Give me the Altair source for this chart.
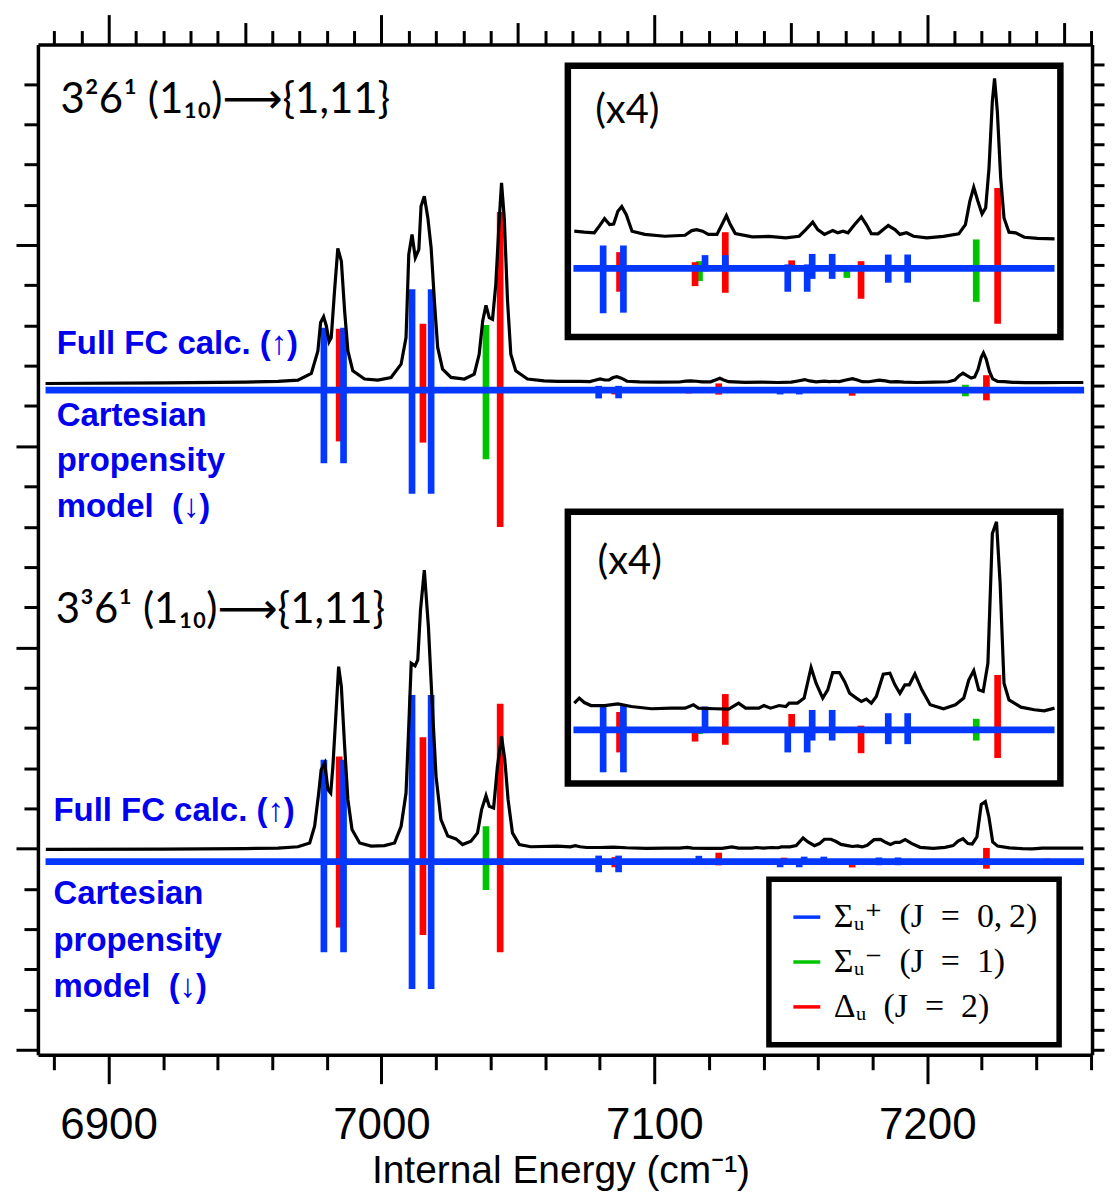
import altair as alt
import pandas as pd

# ---------------- categories / legend ----------------
SYM_CODES = ["S+", "S-", "D"]
SYM_NAMES = ["Σᵤ⁺\u2002(J\u2002=\u20020,\u20092)", "Σᵤ⁻\u2002(J\u2002=\u20021)", "Δᵤ\u2002(J\u2002=\u20022)"]
SYM_COLORS = ["#0538ff", "#00c400", "#ff0000"]
DRAW_RANK = {"S-": 0, "D": 1, "S+": 2}

# ---------------- strong transitions (main panels only), cm-1 ----------------
STRONG_E = [6978.9, 6984.5, 6986.1, 7011.2, 7015.2, 7018.2, 7038.3, 7043.5]
STRONG_SYM = ["S+", "D", "S+", "S+", "D", "S+", "S-", "D"]
STRONG_FC_UPPER = [3.10, 3.05, 3.10, 5.01, 3.30, 5.01, 3.24, 8.85]
STRONG_CART_UPPER = [3.64, 2.55, 3.64, 5.15, 2.61, 5.15, 3.44, 6.81]
STRONG_FC_LOWER = [5.07, 5.23, 5.07, 8.29, 6.18, 8.29, 1.76, 7.85]
STRONG_CART_LOWER = [4.51, 3.27, 4.51, 6.33, 3.65, 6.33, 1.41, 4.51]

# ---------------- weak transitions (values on the magnified inset scale) ----------------
WEAK_E = [7079.6, 7085.5, 7086.9, 7112.7, 7114.3, 7116.3, 7123.6, 7123.6, 7146.1, 7147.5,
          7153.1, 7154.9, 7162.1, 7167.4, 7172.5, 7182.3, 7189.3, 7214.0, 7221.7, 7243.9]
WEAK_SYM = ["S+", "D", "S+", "D", "S-", "S+", "D", "S+", "S+", "D",
            "S+", "S+", "S+", "S-", "D", "S+", "S+", "S-", "D", "D"]
WEAK_FC_UPPER = [1.14, 0.81, 1.14, 0.31, 0.36, 0.66, 1.80, 0.66, 0.20, 0.40,
                 0.20, 0.72, 0.72, 0.00, 0.36, 0.69, 0.69, 1.44, 4.00, 0.00]
WEAK_CART_UPPER = [2.23, 1.16, 2.20, 0.88, 0.63, 0.15, 1.21, 0.15, 1.16, 0.13,
                   1.16, 0.52, 0.52, 0.47, 1.51, 0.71, 0.71, 1.66, 2.75, 0.00]
WEAK_FC_LOWER = [1.20, 0.89, 1.20, 0.05, 0.05, 1.16, 1.78, 0.05, 0.05, 0.79,
                 0.05, 0.99, 0.99, 0.00, 0.21, 0.83, 0.83, 0.55, 2.73, 0.60]
WEAK_CART_LOWER = [2.11, 1.12, 2.11, 0.58, 0.21, 0.16, 0.74, 0.05, 1.12, 0.05,
                   1.12, 0.53, 0.53, 0.00, 1.16, 0.71, 0.71, 0.53, 1.40, 0.00]

# ---------------- spectra: strong region (main scale) ----------------
UPPER_E = [6876.9, 6920.0, 6950.0, 6962.1, 6969.4, 6974.3, 6976.7, 6977.7, 6978.8, 6979.8,
           6980.8, 6981.6, 6982.8, 6984.0, 6985.3, 6986.5, 6987.7, 6989.5, 6993.8, 6998.7,
           7003.5, 7007.2, 7009.0, 7010.0, 7011.2, 7012.4, 7013.7, 7014.5, 7015.7, 7017.0,
           7018.2, 7019.4, 7020.6, 7022.4, 7025.5, 7030.4, 7034.0, 7035.8, 7037.1, 7038.3,
           7039.5, 7040.7, 7041.9, 7043.2, 7044.0, 7045.0, 7046.2, 7047.4, 7049.2, 7053.5,
           7059.6, 7064.5]
UPPER_I = [-0.05, -0.02, 0.02, 0.05, 0.12, 0.45, 1.57, 2.98, 3.27, 2.81,
           2.03, 2.23, 4.55, 6.66, 6.03, 3.55, 1.57, 0.58, 0.17, 0.12,
           0.25, 0.91, 2.23, 6.36, 7.36, 6.20, 6.61, 8.76, 9.26, 8.18,
           6.69, 4.05, 1.74, 0.66, 0.25, 0.17, 0.41, 1.40, 3.06, 3.83,
           3.22, 3.14, 4.88, 8.18, 9.92, 8.18, 4.05, 1.40, 0.58, 0.17,
           0.08, 0.05]
LOWER_E = [6877.0, 6920.0, 6950.0, 6962.1, 6969.4, 6973.7, 6975.5, 6977.0, 6977.9, 6979.2,
           6980.4, 6981.4, 6982.2, 6983.4, 6984.3, 6985.3, 6986.5, 6987.7, 6989.2, 6992.0,
           6996.2, 7001.1, 7004.8, 7007.2, 7009.0, 7010.0, 7010.9, 7012.3, 7013.3, 7014.3,
           7015.7, 7017.2, 7018.4, 7020.0, 7021.8, 7024.3, 7027.3, 7029.7, 7032.8, 7035.2,
           7036.7, 7038.3, 7039.5, 7041.1, 7042.5, 7044.0, 7045.2, 7046.4, 7048.0, 7050.5,
           7054.7, 7064.5]
LOWER_I = [-0.06, -0.05, -0.02, 0.00, 0.07, 0.26, 1.09, 2.74, 3.90, 4.23,
           2.91, 2.74, 4.07, 6.88, 9.02, 8.03, 5.06, 2.41, 0.93, 0.26,
           0.10, 0.13, 0.26, 1.09, 2.74, 6.05, 9.19, 9.06, 9.36, 11.83,
           13.82, 11.01, 7.70, 3.57, 1.42, 0.60, 0.46, 0.18, 0.35, 0.76,
           1.92, 2.61, 2.08, 2.00, 4.07, 5.55, 4.40, 2.41, 0.76, 0.18,
           0.07, 0.10]
TAIL_E = [7250.0, 7257.2]
TAIL_I = [0.0, 0.0]

# ---------------- spectra: weak region (magnified inset scale) ----------------
INSET1_E = [7069.2, 7072.8, 7076.4, 7078.2, 7080.1, 7081.9, 7083.4, 7084.9, 7086.3, 7087.9,
            7090.0, 7094.6, 7101.8, 7109.1, 7111.5, 7113.3, 7115.4, 7117.5, 7120.6, 7122.4,
            7124.0, 7125.4, 7127.2, 7133.3, 7139.3, 7145.4, 7150.2, 7152.6, 7155.1, 7156.9,
            7159.3, 7162.3, 7164.1, 7166.0, 7167.8, 7170.2, 7172.6, 7174.4, 7176.2, 7178.6,
            7182.3, 7184.7, 7186.5, 7188.9, 7191.4, 7196.2, 7202.2, 7207.7, 7210.1, 7211.7,
            7213.1, 7214.6, 7216.1, 7217.4, 7218.6, 7219.8, 7220.6, 7221.6, 7222.8, 7224.0,
            7225.8, 7228.2, 7231.3, 7236.1, 7242.2]
INSET1_I = [0.33, 0.28, 0.25, 0.58, 0.96, 0.66, 0.69, 1.32, 1.55, 1.16,
            0.33, 0.17, 0.08, 0.13, 0.36, 0.41, 0.33, 0.17, 0.17, 0.66,
            1.11, 0.66, 0.21, 0.05, 0.07, 0.00, 0.08, 0.41, 0.78, 0.41,
            0.17, 0.36, 0.25, 0.33, 0.25, 0.66, 1.04, 0.66, 0.21, 0.20,
            0.61, 0.41, 0.17, 0.25, 0.08, 0.00, 0.07, 0.20, 0.66, 1.82,
            2.51, 1.82, 1.19, 1.49, 3.47, 6.78, 7.93, 6.28, 2.98, 0.99,
            0.28, 0.25, 0.03, -0.03, -0.05]
INSET2_E = [7069.2, 7071.0, 7072.8, 7075.2, 7080.1, 7084.9, 7089.7, 7097.0, 7104.2, 7109.1,
            7112.1, 7113.9, 7120.0, 7124.8, 7128.4, 7130.9, 7135.7, 7137.5, 7139.9, 7143.0,
            7145.4, 7146.6, 7149.6, 7152.0, 7154.5, 7156.3, 7158.7, 7160.5, 7162.3, 7164.7,
            7166.6, 7168.4, 7170.8, 7172.6, 7174.4, 7176.2, 7178.0, 7180.5, 7182.9, 7184.7,
            7186.5, 7188.3, 7189.9, 7191.9, 7194.4, 7197.4, 7202.2, 7206.5, 7209.5, 7211.3,
            7213.1, 7214.9, 7216.5, 7218.2, 7219.8, 7221.3, 7222.6, 7224.0, 7225.8, 7230.1,
            7234.9, 7238.5, 7242.2]
INSET2_I = [0.25, 0.50, 0.28, 0.13, 0.13, 0.21, 0.08, -0.03, 0.00, 0.00,
            0.17, 0.00, -0.03, -0.05, 0.25, 0.00, 0.00, 0.13, 0.00, 0.13,
            0.08, 0.25, 0.25, 0.50, 2.02, 1.24, 0.50, 0.91, 1.77, 1.77,
            1.32, 0.74, 0.50, 0.33, 0.45, 0.25, 0.58, 1.69, 1.74, 1.16,
            0.74, 1.16, 1.16, 1.70, 0.91, 0.17, -0.03, 0.17, 0.50, 1.40,
            1.87, 0.91, 0.83, 2.23, 8.68, 9.26, 6.20, 1.24, 0.41, 0.05,
            -0.08, -0.13, 0.00]

# ---------------- text ----------------
PANEL_LABELS = ["3²6¹ (1₁₀)⟶{1,11}", "3³6¹ (1₁₀)⟶{1,11}"]
INSET_LABEL = "(x4)"
BLUE_LINES = ["Full FC calc. (↑)", "Cartesian", "propensity", "model\u00a0\u00a0(↓)"]
X_TITLE = "Internal Energy (cm⁻¹)"
XTICKS = list(range(6880, 7261, 10))
YTICKS = list(range(-5, 45))

# ---------------- layout (plot units) ----------------
X_DOMAIN = [6874.1, 7260.4]
Y_DOMAIN = [-5.25, 44.97]
BASELINE_X = (6876.9, 7257.5)
FRAME_X = (7068.3, 7248.8)
INSET_SPAN_E = (7068.9, 7242.2)
INSET_X_REF, INSET_X_ANCHOR, INSET_X_GAIN = 7079.6, 7081.24, 1.0173
PANELS = {
    "upper": dict(curve=28.17, stick=27.79, icurve=35.36, istick=33.84, gain=5.4,
                  frame_y=(30.43, 43.92), label=(6882.4, 41.59), x4=(7078.3, 41.06),
                  blue_x=6881.0, blue_y=[29.61, 26.02, 23.79, 21.48]),
    "lower": dict(curve=5.02, stick=4.35, icurve=11.98, istick=10.90, gain=4.0,
                  frame_y=(8.24, 21.74), label=(6880.6, 16.19), x4=(7079.2, 18.64),
                  blue_x=6879.8, blue_y=[6.36, 2.23, -0.08, -2.39]),
}


def e_disp(e):
    return INSET_X_ANCHOR + INSET_X_GAIN * (e - INSET_X_REF)


sym_name = dict(zip(SYM_CODES, SYM_NAMES))
panel_data = {
    "upper": (STRONG_FC_UPPER, STRONG_CART_UPPER, WEAK_FC_UPPER, WEAK_CART_UPPER,
              UPPER_E, UPPER_I, INSET1_E, INSET1_I),
    "lower": (STRONG_FC_LOWER, STRONG_CART_LOWER, WEAK_FC_LOWER, WEAK_CART_LOWER,
              LOWER_E, LOWER_I, INSET2_E, INSET2_I),
}

stick_rows, curve_rows, base_rows, frame_rows = [], [], [], []
label_rows, x4_rows, blue_rows = [], [], []
for pname, p in PANELS.items():
    sfc, scart, wfc, wcart, ce, ci, ie, ii = panel_data[pname]
    for e, s, u, d in zip(STRONG_E, STRONG_SYM, sfc, scart):
        stick_rows.append(dict(x=e, y=p["stick"] + u, y2=p["stick"] - d,
                               sym=sym_name[s], rank=DRAW_RANK[s]))
    for e, s, u, d in zip(WEAK_E, WEAK_SYM, wfc, wcart):
        if u == 0 and d == 0:
            continue
        stick_rows.append(dict(x=e, y=p["stick"] + u / p["gain"], y2=p["stick"] - d / p["gain"],
                               sym=sym_name[s], rank=DRAW_RANK[s]))
        if e <= INSET_SPAN_E[1]:
            stick_rows.append(dict(x=e_disp(e), y=p["istick"] + u, y2=p["istick"] - d,
                                   sym=sym_name[s], rank=DRAW_RANK[s]))
    cid = pname + "_main"
    for e, i in zip(ce, ci):
        curve_rows.append(dict(c=cid, x=e, y=p["curve"] + i))
    for e, i in zip(ie, ii):
        curve_rows.append(dict(c=cid, x=e, y=p["curve"] + i / p["gain"]))
    for e, i in zip(TAIL_E, TAIL_I):
        curve_rows.append(dict(c=cid, x=e, y=p["curve"] + i))
    for e, i in zip(ie, ii):
        curve_rows.append(dict(c=pname + "_inset", x=e_disp(e), y=p["icurve"] + i))
    base_rows.append(dict(x=BASELINE_X[0], x2=BASELINE_X[1], y=p["stick"]))
    base_rows.append(dict(x=e_disp(INSET_SPAN_E[0]), x2=e_disp(INSET_SPAN_E[1]), y=p["istick"]))
    frame_rows.append(dict(x=FRAME_X[0], x2=FRAME_X[1], y=p["frame_y"][0], y2=p["frame_y"][1]))
    label_rows.append(dict(x=p["label"][0], y=p["label"][1],
                           text=PANEL_LABELS[0 if pname == "upper" else 1]))
    x4_rows.append(dict(x=p["x4"][0], y=p["x4"][1], text=INSET_LABEL))
    for t, yy in zip(BLUE_LINES, p["blue_y"]):
        blue_rows.append(dict(x=p["blue_x"], y=yy, text=t))

sticks_df = pd.DataFrame(stick_rows).sort_values("rank", kind="stable").reset_index(drop=True)
curves_df = pd.DataFrame(curve_rows)
base_df = pd.DataFrame(base_rows)
frame_df = pd.DataFrame(frame_rows)
label_df = pd.DataFrame(label_rows)
x4_df = pd.DataFrame(x4_rows)
blue_df = pd.DataFrame(blue_rows)

XS = alt.Scale(domain=X_DOMAIN, nice=False, zero=False)
YS = alt.Scale(domain=Y_DOMAIN, nice=False, zero=False)

common_axis = dict(grid=False, domainColor="black", domainWidth=3.5,
                   tickColor="black", tickWidth=3)


def tick_expr(major_step, mid_step, major, mid, minor):
    v = "abs(round(datum.value))"
    return alt.ExprRef(expr=f"{v} % {major_step} === 0 ? {major} : ({v} % {mid_step} === 0 ? {mid} : {minor})")


x_bottom = alt.Axis(
    orient="bottom", values=XTICKS, format="d",
    labelExpr="datum.value % 100 === 0 ? datum.label : ''",
    tickSize=tick_expr(100, 50, 29, 22, 15),
    labelFont="Liberation Sans", labelFontSize=44, labelColor="black",
    labelBaseline="alphabetic", labelPadding=55, labelOverlap=False, labelFlush=False,
    title=X_TITLE, titleFont="Liberation Sans", titleFontSize=39, titleFontWeight="normal",
    titleColor="black", titleBaseline="alphabetic", titleAlign="center", titleX=524, titleY=128,
    **common_axis)
y_left = alt.Axis(
    orient="left", values=YTICKS, labels=False, title=None,
    tickSize=tick_expr(10, 5, 28, 22, 14),
    **common_axis)
x_top = alt.Axis(
    orient="top", values=XTICKS, labels=False, title=None,
    tickSize=tick_expr(100, 50, 30, 22, 14),
    **common_axis)
y_right = alt.Axis(orient="right", values=YTICKS, labels=False, title=None, tickSize=12,
                   **common_axis)


def X(field="x"):
    return alt.X(f"{field}:Q", scale=XS)


def Y(field="y"):
    return alt.Y(f"{field}:Q", scale=YS)


frames = alt.Chart(frame_df).mark_rect(fill="white", stroke="black", strokeWidth=6.5).encode(
    x=alt.X("x:Q", scale=XS, axis=x_bottom),
    x2="x2:Q",
    y=alt.Y("y:Q", scale=YS, axis=y_left),
    y2="y2:Q",
)

sticks = alt.Chart(sticks_df).mark_rule(strokeWidth=6.7).encode(
    x=X(), y=Y(), y2="y2:Q",
    color=alt.Color(
        "sym:N",
        scale=alt.Scale(domain=SYM_NAMES, range=SYM_COLORS),
        legend=alt.Legend(
            title=None, orient="none", legendX=733, legendY=837,
            symbolType="stroke", symbolStrokeWidth=3.5, symbolSize=729,
            labelFont="Liberation Serif, DejaVu Serif", labelFontSize=34, labelColor="black",
            labelOffset=10, rowPadding=11, padding=21, labelLimit=500,
            strokeColor="black", fillColor="white",
        ),
    ),
)

baselines = alt.Chart(base_df).mark_rule(strokeWidth=6.7, color=SYM_COLORS[0]).encode(
    x=X(), x2="x2:Q", y=Y(),
)

curves = alt.Chart(curves_df).mark_line(color="black", strokeWidth=3.2).encode(
    x=X(), y=Y(), detail="c:N",
)

labels = alt.Chart(label_df).mark_text(
    align="left", baseline="alphabetic", font="Lato, DejaVu Sans", fontSize=42, color="black"
).encode(x=X(), y=Y(), text="text:N")

x4 = alt.Chart(x4_df).mark_text(
    align="left", baseline="alphabetic", font="Lato, DejaVu Sans", fontSize=40, color="black"
).encode(x=X(), y=Y(), text="text:N")

blue_txt = alt.Chart(blue_df).mark_text(
    align="left", baseline="alphabetic", font="Liberation Sans, DejaVu Sans", fontSize=33,
    fontWeight="bold", color="#0000ee"
).encode(x=X(), y=Y(), text="text:N")

content = alt.layer(frames, sticks, baselines, curves, labels, x4, blue_txt)

mirror = alt.Chart(base_df).mark_point(opacity=0, size=1).encode(
    x=alt.X("x:Q", scale=XS, axis=x_top),
    y=alt.Y("y:Q", scale=YS, axis=y_right),
)

chart = (
    alt.layer(content, mirror)
    .resolve_axis(x="independent", y="independent")
    .properties(width=1057, height=1013,
                padding={"left": 6, "top": 3, "right": 0, "bottom": 0})
    .configure_view(stroke=None)
    .configure_legend(strokeWidth=5.5)
)

chart.save("out.html", embed_options={"renderer": "svg", "actions": False})
